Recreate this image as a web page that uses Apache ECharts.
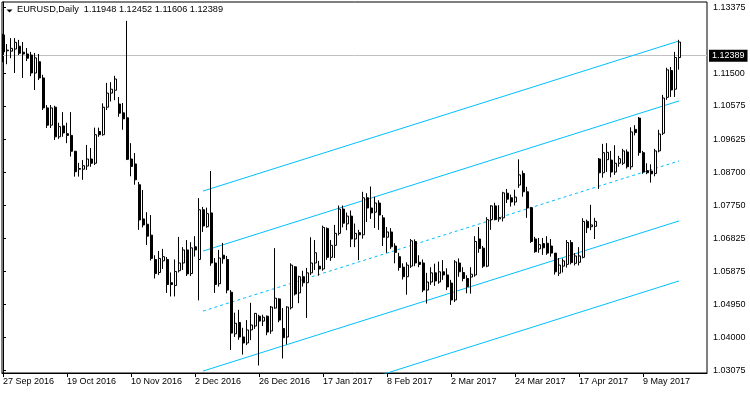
<!DOCTYPE html>
<html><head><meta charset="utf-8">
<script src="https://cdn.jsdelivr.net/npm/echarts@6/dist/echarts.min.js"></script>
<style>html,body{margin:0;padding:0;background:#fff}#c{width:750px;height:394px}</style>
</head><body><div id="c"></div>
<script>
const symbol = 'EURUSD';
const period = 'Daily';
const opens = [1.1259,1.1214,1.1213,1.1219,1.1227,1.1210,1.1205,1.1202,1.1151,1.1183,
1.1137,1.1052,1.1003,1.1054,1.0970,1.1001,1.0979,1.0974,1.0929,1.0878,
1.0878,1.0887,1.0907,1.0895,1.0985,1.0976,1.1054,1.1094,1.1102,1.1063,
1.1038,1.1024,1.0907,1.0893,1.0834,1.0737,1.0722,1.0691,1.0622,1.0585,
1.0618,1.0622,1.0556,1.0548,1.0590,1.0612,1.0649,1.0582,1.0658,1.0622,
1.0763,1.0715,1.0754,1.0612,1.0553,1.0634,1.0622,1.0529,1.0411,1.0443,
1.0402,1.0385,1.0422,1.0433,1.0461,1.0447,1.0461,1.0419,1.0484,1.0510,
1.0426,1.0402,1.0485,1.0601,1.0527,1.0573,1.0556,1.0584,1.0612,1.0603,
1.0595,1.0710,1.0628,1.0662,1.0696,1.0765,1.0723,1.0745,1.0680,1.0698,
1.0692,1.0797,1.0768,1.0756,1.0782,1.0740,1.0685,1.0700,1.0660,1.0630,
1.0600,1.0573,1.0603,1.0673,1.0614,1.0612,1.0535,1.0558,1.0584,1.0558,
1.0587,1.0578,1.0555,1.0507,1.0612,1.0585,1.0568,1.0572,1.0578,1.0680,
1.0654,1.0603,1.0735,1.0774,1.0737,1.0740,1.0810,1.0797,1.0785,1.0833,
1.0866,1.0814,1.0769,1.0680,1.0652,1.0667,1.0668,1.0660,1.0640,1.0583,
1.0603,1.0608,1.0670,1.0611,1.0614,1.0628,1.0730,1.0715,1.0716,1.0907,
1.0868,1.0905,1.0904,1.0870,1.0895,1.0895,1.0927,1.0885,1.0991,1.1023,
1.0925,1.0874,1.0873,1.0866,1.0930,1.0980,1.1082,1.1158,1.1105,1.11948];
const highs = [1.1262,1.1233,1.1250,1.1250,1.1245,1.1239,1.1222,1.1211,1.1208,1.1205,
1.1146,1.1060,1.1060,1.1058,1.1010,1.1040,1.1010,1.1040,1.0930,1.0896,
1.0904,1.0947,1.0938,1.0996,1.0996,1.1065,1.1123,1.1125,1.1143,1.1083,
1.1066,1.1299,1.0952,1.0924,1.0842,1.0819,1.0756,1.0748,1.0634,1.0646,
1.0652,1.0629,1.0585,1.0622,1.0686,1.0657,1.0677,1.0671,1.0688,1.0796,
1.0771,1.0769,1.0873,1.0626,1.0649,1.0669,1.0632,1.0535,1.0471,1.0479,
1.0428,1.0450,1.0499,1.0470,1.0465,1.0465,1.0463,1.0490,1.0654,1.0512,
1.0484,1.0489,1.0611,1.0603,1.0576,1.0590,1.0598,1.0685,1.0677,1.0618,
1.0718,1.0713,1.0677,1.0720,1.0775,1.0775,1.0755,1.0761,1.0724,1.0706,
1.0814,1.0810,1.0829,1.0800,1.0790,1.0748,1.0714,1.0711,1.0668,1.0641,
1.0611,1.0614,1.0680,1.0679,1.0634,1.0622,1.0584,1.0600,1.0610,1.0616,
1.0620,1.0597,1.0564,1.0620,1.0625,1.0600,1.0577,1.0600,1.0688,1.0714,
1.0660,1.0742,1.0776,1.0783,1.0776,1.0814,1.0822,1.0806,1.0820,1.0906,
1.0874,1.0828,1.0771,1.0686,1.0683,1.0683,1.0688,1.0680,1.0640,1.0626,
1.0625,1.0677,1.0677,1.0640,1.0657,1.0739,1.0735,1.0777,1.0740,1.0910,
1.0950,1.0952,1.0930,1.0946,1.0916,1.0936,1.0934,1.0997,1.1003,1.1026,
1.0930,1.0895,1.0892,1.0936,1.0990,1.1089,1.1166,1.1168,1.1211,1.12452];
const lows = [1.1182,1.1176,1.1193,1.1151,1.1202,1.1137,1.1185,1.1142,1.1103,1.1131,
1.1046,1.0995,1.0995,1.0961,1.0964,1.0970,1.0952,1.0914,1.0857,1.0857,
1.0848,1.0876,1.0885,1.0890,1.0970,1.0973,1.1046,1.1070,1.1074,1.1027,
1.0990,1.0904,1.0858,1.0834,1.0706,1.0713,1.0663,1.0619,1.0568,1.0578,
1.0595,1.0527,1.0517,1.0517,1.0585,1.0592,1.0575,1.0575,1.0630,1.0506,
1.0700,1.0712,1.0604,1.0527,1.0545,1.0610,1.0526,1.0365,1.0402,1.0394,
1.0352,1.0379,1.0393,1.0425,1.0321,1.0433,1.0407,1.0411,1.0482,1.0444,
1.0341,1.0381,1.0480,1.0520,1.0498,1.0545,1.0456,1.0578,1.0592,1.0576,
1.0590,1.0621,1.0618,1.0626,1.0690,1.0713,1.0705,1.0657,1.0657,1.0620,
1.0681,1.0728,1.0737,1.0711,1.0706,1.0660,1.0641,1.0652,1.0611,1.0590,
1.0565,1.0522,1.0598,1.0603,1.0600,1.0529,1.0497,1.0550,1.0547,1.0553,
1.0564,1.0535,1.0493,1.0501,1.0573,1.0560,1.0526,1.0525,1.0573,1.0641,
1.0598,1.0600,1.0706,1.0733,1.0729,1.0730,1.0782,1.0772,1.0775,1.0825,
1.0800,1.0740,1.0669,1.0641,1.0641,1.0635,1.0635,1.0630,1.0579,1.0575,
1.0585,1.0599,1.0608,1.0605,1.0605,1.0625,1.0697,1.0705,1.0680,1.0822,
1.0854,1.0870,1.0855,1.0862,1.0885,1.0890,1.0880,1.0877,1.0974,1.0916,
1.0865,1.0864,1.0840,1.0858,1.0926,1.0975,1.1075,1.1083,1.1083,1.11606];
const closes = [1.1211,1.1216,1.1221,1.1238,1.1207,1.1205,1.1193,1.1151,1.1194,1.1137,
1.1052,1.1003,1.1052,1.0970,1.0999,1.0981,1.0974,1.0929,1.0871,1.0880,
1.0888,1.0907,1.0895,1.0976,1.0976,1.1054,1.1094,1.1105,1.1134,1.1037,
1.1021,1.0906,1.0886,1.0848,1.0734,1.0720,1.0688,1.0625,1.0582,1.0625,
1.0630,1.0551,1.0551,1.0588,1.0612,1.0649,1.0581,1.0655,1.0649,1.0763,
1.0717,1.0752,1.0612,1.0551,1.0626,1.0624,1.0535,1.0413,1.0441,1.0402,
1.0385,1.0422,1.0436,1.0469,1.0447,1.0458,1.0416,1.0487,1.0512,1.0450,
1.0400,1.0487,1.0606,1.0524,1.0573,1.0556,1.0584,1.0612,1.0641,1.0595,
1.0713,1.0628,1.0662,1.0696,1.0765,1.0725,1.0745,1.0680,1.0696,1.0692,
1.0797,1.0768,1.0754,1.0782,1.0748,1.0685,1.0700,1.0658,1.0642,1.0599,
1.0573,1.0606,1.0675,1.0612,1.0608,1.0535,1.0558,1.0584,1.0561,1.0587,
1.0578,1.0544,1.0507,1.0615,1.0587,1.0568,1.0545,1.0580,1.0673,1.0653,
1.0603,1.0735,1.0774,1.0735,1.0741,1.0811,1.0793,1.0785,1.0799,1.0862,
1.0814,1.0768,1.0673,1.0644,1.0664,1.0655,1.0640,1.0640,1.0587,1.0606,
1.0618,1.0670,1.0613,1.0632,1.0632,1.0730,1.0712,1.0720,1.0730,1.0868,
1.0925,1.0926,1.0870,1.0895,1.0908,1.0930,1.0885,1.0984,1.0982,1.0925,
1.0870,1.0868,1.0865,1.0930,1.0978,1.1080,1.1160,1.1103,1.1195,1.12389];

const xTickIndex = [0,16,32,48,64,80,96,112,128,144,160];
const xTickLabels = ['27 Sep 2016','19 Oct 2016','10 Nov 2016','2 Dec 2016','26 Dec 2016','17 Jan 2017','8 Feb 2017','2 Mar 2017','24 Mar 2017','17 Apr 2017','9 May 2017'];
const yTicks = [1.13375,1.11500,1.10575,1.09625,1.08700,1.07750,1.06825,1.05875,1.04950,1.04000,1.03075];
const yMin = 1.02998, yMax = 1.13525;
const xMin = -0.25, xMax = 176;

// equidistant channel: bar indices and top-line prices
const channelBars = [50, 169];
const channelTop = [1.0816, 1.1242];
const channelGap = 0.017025;
const channelLevels = [0, 1, 2, 3, 4];
const dashedLevel = 2;

const n = closes.length;
const last = n - 1;
const lastPrice = closes[last];
const fmt = v => v.toFixed(5);

const candleData = [];
for (let i = 0; i < n; i++) candleData.push([i, opens[i], closes[i], lows[i], highs[i]]);

const font = 'Liberation Sans, Arial, sans-serif';
const series = [{
  type: 'candlestick',
  data: candleData,
  encode: { x: 0, y: [1, 2, 3, 4] },
  barWidth: 2.5,
  itemStyle: { color: '#ffffff', color0: '#000000', borderColor: '#000000', borderColor0: '#000000', borderWidth: 1 },
  z: 3,
  markLine: {
    silent: true, symbol: 'none', z: 1, animation: false,
    lineStyle: { color: '#c0c0c0', width: 1, type: 'solid' },
    label: { position: 'end', distance: 2, formatter: fmt(lastPrice), backgroundColor: '#000', color: '#fff',
             fontFamily: font, fontSize: 9, padding: [2, 3, 1, 3] },
    data: [{ yAxis: lastPrice }]
  }
}];
channelLevels.forEach(k => {
  series.push({
    type: 'line', silent: true, symbol: 'none', clip: true, z: 2,
    data: [[channelBars[0], channelTop[0] - k * channelGap], [channelBars[1], channelTop[1] - k * channelGap]],
    lineStyle: { color: '#00bfff', width: 1, type: k === dashedLevel ? [3, 3] : 'solid' }
  });
});

const chart = echarts.init(document.getElementById('c'), null, { renderer: 'canvas' });
chart.setOption({
  animation: false,
  backgroundColor: '#fff',
  title: {
    text: symbol + ',' + period + '  ' + [opens[last], highs[last], lows[last], closes[last]].map(fmt).join(' '),
    left: 17, top: 5, padding: 0,
    textStyle: { fontFamily: font, fontSize: 9.2, fontWeight: 'normal', color: '#000' }
  },
  graphic: [{ type: 'polygon', shape: { points: [[6.5, 9.5], [12.5, 9.5], [9.5, 12.5]] }, style: { fill: '#000' }, z: 100 }],
  grid: { left: 2, top: 2, right: 43, bottom: 21, show: true, borderColor: '#000', borderWidth: 1, backgroundColor: 'transparent' },
  xAxis: {
    type: 'value', min: xMin, max: xMax,
    splitLine: { show: false },
    axisLine: { show: true, lineStyle: { color: '#000', width: 1 } },
    axisTick: { show: true, customValues: xTickIndex, length: 4, lineStyle: { color: '#000' } },
    axisLabel: {
      customValues: xTickIndex, align: 'left', margin: 4, color: '#000', fontFamily: font, fontSize: 9,
      formatter: v => xTickLabels[xTickIndex.indexOf(Math.round(v))] || ''
    }
  },
  yAxis: {
    type: 'value', position: 'right', min: yMin, max: yMax, scale: true,
    splitLine: { show: false },
    axisLine: { show: true, lineStyle: { color: '#000', width: 1 } },
    axisTick: { show: true, customValues: yTicks, length: 3, lineStyle: { color: '#000' } },
    axisLabel: { customValues: yTicks, margin: 6, color: '#000', fontFamily: font, fontSize: 9, formatter: v => fmt(v) }
  },
  series: series
});
</script>
</body></html>
